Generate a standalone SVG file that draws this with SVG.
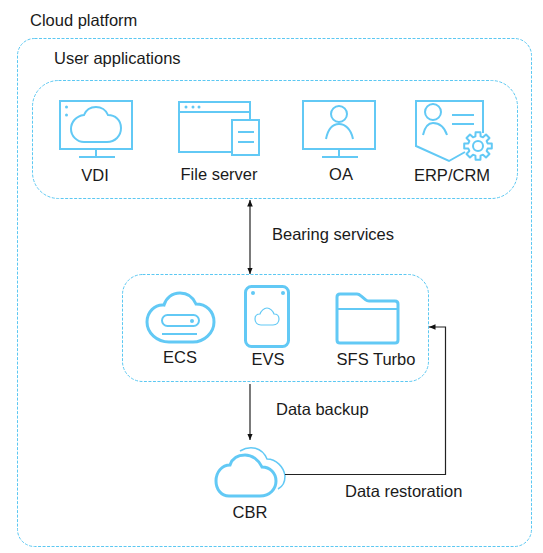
<svg xmlns="http://www.w3.org/2000/svg" width="543" height="553" viewBox="0 0 543 553">
<style>
text{font-family:"Liberation Sans",Arial,sans-serif;font-size:16.500px;fill:#1a1a1a}
.c{text-anchor:middle}
.box{fill:#fff;stroke:#5cc8f2;stroke-width:1;stroke-dasharray:3 1.5}
.i{fill:none;stroke:#62c9f5;stroke-width:2}
.t{fill:none;stroke:#62c9f5;stroke-width:3}
.f{fill:#62c9f5}
.l{fill:none;stroke:#222;stroke-width:1.200}
</style>
<defs>
<marker id="a" viewBox="0 0 7 7" refX="6.500" refY="3.500" markerWidth="7" markerHeight="7" markerUnits="userSpaceOnUse" orient="auto-start-reverse"><path d="M0 .7L6.500 3.500L0 6.300Z" fill="#111"/></marker>
</defs>
<rect width="543" height="553" fill="#fff"/>
<g id="cloud-platform">
<rect class="box" x="17.500" y="38.500" width="514" height="508" rx="17"/>
<text x="30" y="26">Cloud platform</text>
</g>
<g id="user-applications">
<rect class="box" x="32.500" y="80.500" width="485" height="118" rx="26"/>
<text x="54" y="64">User applications</text>
</g>
<g id="vdi">
<rect class="i" x="60" y="101" width="72" height="48"/>
<path class="i" d="M96 149V157M79 157H115"/>
<circle class="f" cx="66.500" cy="107" r="1.500"/><circle class="f" cx="66.500" cy="115" r="1.500"/>
<path class="i" d="M84 142H107C115 142 121 136 121 128C121 120 115 115 108 115C106 110 101 107 96 107C90 107 86 110 84 115C76 116 71 122 71 129C71 136 77 142 84 142Z"/>
<text class="c" x="95" y="181">VDI</text>
</g>
<g id="file-server">
<path class="i" d="M231 152H179V102H250V119M179 112H250"/>
<circle class="f" cx="186" cy="107" r="1.500"/><circle class="f" cx="193" cy="107" r="1.500"/><circle class="f" cx="199" cy="107" r="1.500"/>
<rect class="i" x="232" y="120" width="27" height="35"/>
<path class="i" d="M238 132H254M238 142H254"/>
<text class="c" x="219" y="180">File server</text>
</g>
<g id="oa">
<rect class="i" x="303" y="101" width="72" height="48"/>
<path class="i" d="M339 149V157M322 157H358"/>
<circle class="i" cx="339" cy="114" r="8"/>
<path class="i" d="M326 139C328 129 333 124 339 124C345 124 351 129 353 139"/>
<text class="c" x="341" y="180">OA</text>
</g>
<g id="erp-crm">
<path class="i" d="M483 133V101H416V146L449 161L465 152"/>
<circle class="i" cx="433" cy="112" r="8"/>
<path class="i" d="M423 135C425 126 428 123 433 123C439 123 444 126 447 135"/>
<path class="i" d="M452 115H474M452 124H474"/>
<circle class="i" cx="478" cy="146" r="5"/>
<path class="i" stroke-linejoin="round" transform="translate(478 146)" d="M9.660-2.590L13.790-2.430V2.430L9.660 2.590L8.660 5L11.470 8.030L8.030 11.470L5 8.660L2.590 9.660L2.430 13.790H-2.430L-2.590 9.660L-5 8.660L-8.030 11.470L-11.470 8.030L-8.660 5L-9.660 2.590L-13.790 2.430V-2.430L-9.660-2.590L-8.660-5L-11.470-8.030L-8.030-11.470L-5-8.660L-2.590-9.660L-2.430-13.790H2.430L2.590-9.660L5-8.660L8.030-11.470L11.470-8.030L8.660-5Z"/>
<text class="c" x="452" y="181">ERP/CRM</text>
</g>
<g id="storage">
<rect class="box" x="122.500" y="274.500" width="306" height="107" rx="20"/>
</g>
<g id="ecs">
<path class="t" d="M169 342H193C204 342 214 333 214 322C214 311 206 304 196 304C193 297 187 293 180 293C172 293 166 298 164 305C155 304 147 312 147 322C147 333 157 342 169 342Z"/>
<rect class="i" x="162" y="315" width="37" height="11" rx="5.500"/>
<circle class="f" cx="192" cy="321" r="2"/>
<path class="i" d="M162 334H197"/>
<text class="c" x="180" y="363">ECS</text>
</g>
<g id="evs">
<rect class="t" x="245.500" y="286.500" width="43" height="60" rx="6"/>
<circle class="f" cx="253" cy="293" r="2"/><circle class="f" cx="283" cy="293" r="2"/>
<path d="M261 325H273C277 325 279 322 279 319C279 316 277 314 274 314C273 311 270 308 267 308C264 308 261 311 260 314C257 314 255 316 255 319C255 322 257 325 261 325Z" fill="none" stroke="#62c9f5" stroke-width="1.200"/>
<text class="c" x="268" y="365">EVS</text>
</g>
<g id="sfs-turbo">
<path class="t" d="M337 297C337 295 338 294 340 294H357C359 294 360 295 361 296L366 300C367 301 368 301 369 301H395C397 301 398 302 398 304V340C398 342 397 343 395 343H340C338 343 337 342 337 340Z"/>
<path class="i" d="M338 309H397"/>
<text class="c" x="376" y="365">SFS Turbo</text>
</g>
<g id="cbr">
<path class="t" d="M229 496H260C270 496 276 489 276 481C276 473 270 467 262 467C259 460 252 455 245 455C237 455 232 459 230 465C222 465 216 472 216 481C216 489 221 496 229 496Z"/>
<path fill="none" stroke="#62c9f5" stroke-width="1.500" d="M240 451C250 445 262 447 267 459C276 459 284 467 285 476C285 483 282 487 278 489"/>
<text class="c" x="250" y="518">CBR</text>
</g>
<g id="connectors">
<path class="l" d="M250 200V274" marker-start="url(#a)" marker-end="url(#a)"/>
<path class="l" d="M250 384V440" marker-end="url(#a)"/>
<path class="l" d="M285 474.500H445.500V327H429" marker-end="url(#a)"/>
</g>
<g id="labels">
<text x="272" y="240">Bearing services</text>
<text x="276" y="415">Data backup</text>
<text x="345" y="497">Data restoration</text>
</g>
</svg>
